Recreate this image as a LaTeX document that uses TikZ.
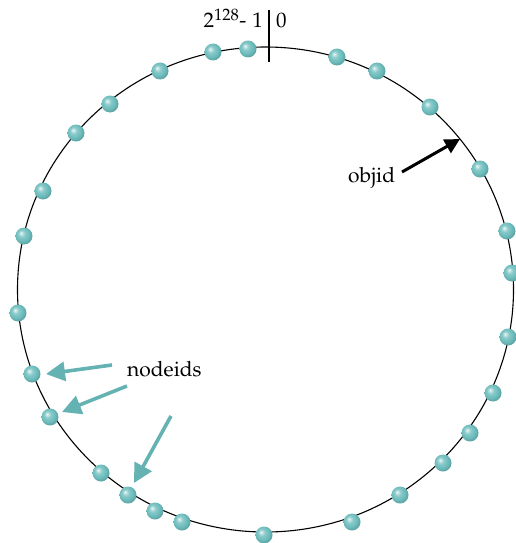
\documentclass[tikz,border=0pt]{standalone}
\usepackage[T1]{fontenc}
\usepackage{mathpazo}
\usetikzlibrary{arrows.meta}
\definecolor{teal1}{RGB}{108,188,188}
\definecolor{tealarrow}{RGB}{100,178,178}
\pgfdeclareradialshading{tealball}{\pgfqpoint{-9bp}{9bp}}{%
  color(0bp)=(teal1!15!white); color(10bp)=(teal1!80!white);
  color(20bp)=(teal1); color(27bp)=(teal1!88!black); color(50bp)=(teal1!70!black)}
\tikzset{
  dot/.style={circle,inner sep=0pt,minimum size=17pt,shading=tealball,draw=none},
  lbl/.style={inner sep=0pt,font=\fontsize{21}{24}\selectfont},
  tealarr/.style={draw=tealarrow,line width=3.6pt,-{Triangle[length=19pt,width=19pt]},fill=tealarrow},
  blackarr/.style={draw=black,line width=3pt,-{Triangle[length=15pt,width=15pt]}}
}
\begin{document}
\begin{tikzpicture}[x=1pt,y=-1pt]
\useasboundingbox (0,0) rectangle (515,543);
% ring
\draw[line width=1.1pt] (265.5,289.5) ellipse [x radius=248, y radius=242.5];
% tick at zero
\coordinate (tt) at (269,10);
\coordinate (tb) at (269,62);
\draw[line width=1.1pt] (tt) -- (tb);
\node[lbl,anchor=base east] (lmax) at (263,28)
  {2\raisebox{7.5pt}{\fontsize{16.5}{18}\selectfont 128}\hspace{0.5pt}-\hspace{6pt}1};
\node[lbl,anchor=base west] (lzero) at (276,28) {0};
% dots
\foreach \n/\x/\y in {d1/213/52,d2/248/49,d3/337/57,d4/377/71,d5/430/107,d6/480/169,
  d7/507/231,d8/512/273,d9/508/337,d10/493/393,d11/470/433,d12/443/463,d13/400/495,
  d14/352/522,d15/264/535,d16/182/522,d17/155/511,d18/128/495,d19/101/473,d20/50/417,
  d21/32/374,d22/18/313,d23/24/236,d24/43/191,d25/76/133,d26/110/104,d27/160/71}
  \node[dot] (\n) at (\x,\y) {};
% labels
\node[lbl,anchor=base west] (objid) at (348,182) {objid};
\node[lbl,anchor=base west] (nodeids) at (127,376) {nodeids};
% objid arrow
\coordinate (os) at (402,172);
\coordinate (oe) at (460,139);
\draw[blackarr] (os) -- (oe);
% nodeid arrows
\coordinate (a1s) at (112,365);
\coordinate (a1e) at (46,374);
\coordinate (a2s) at (127,386);
\coordinate (a2e) at (62,412);
\coordinate (a3s) at (171,416);
\coordinate (a3e) at (134,483);
\draw[tealarr] (a1s) -- (a1e);
\draw[tealarr] (a2s) -- (a2e);
\draw[tealarr] (a3s) -- (a3e);
\end{tikzpicture}
\end{document}
